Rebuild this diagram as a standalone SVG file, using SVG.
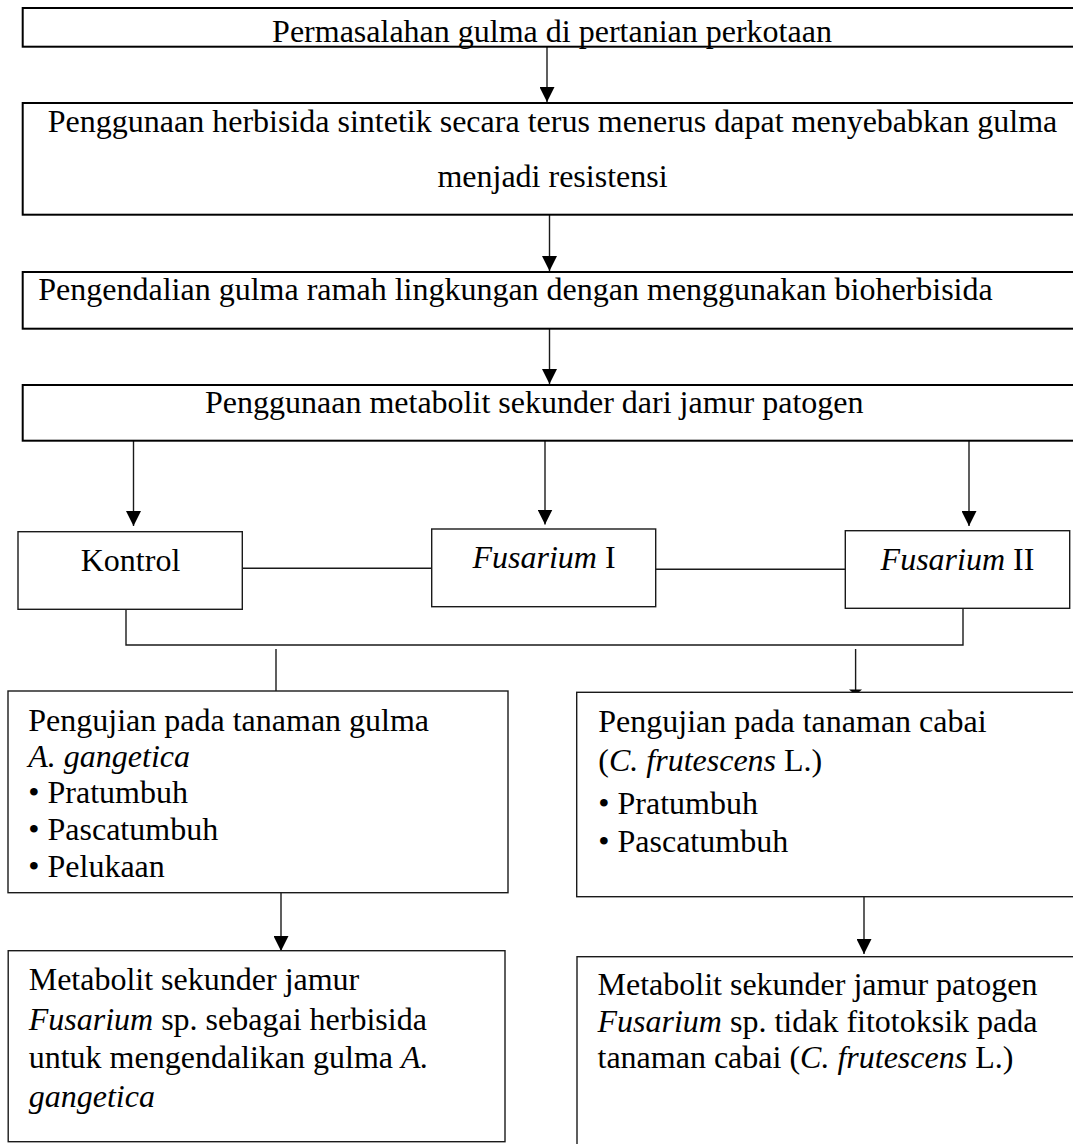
<svg xmlns="http://www.w3.org/2000/svg" width="1073" height="1144" viewBox="0 0 1073 1144">
<style>
text{font-family:"Liberation Serif","Times New Roman",serif;font-size:32px;fill:#000}
.i{font-style:italic}
.bx{fill:#fff;stroke:#000;stroke-width:2}
.sb{fill:#fff;stroke:#1a1a1a;stroke-width:1.4}
.ln{fill:none;stroke:#1a1a1a;stroke-width:1.4}
</style>
<defs>
<marker id="ah" markerWidth="15" markerHeight="15" refX="15" refY="7.5" orient="auto" markerUnits="userSpaceOnUse">
<path d="M0,0 L15,7.5 L0,15 Z" fill="#000"/>
</marker>
</defs>
<rect width="1073" height="1144" fill="#fff"/>
<g id="connectors">
<line class="ln" x1="547" y1="47" x2="547" y2="102" marker-end="url(#ah)"/>
<line class="ln" x1="549.5" y1="215" x2="549.5" y2="271" marker-end="url(#ah)"/>
<line class="ln" x1="549.5" y1="329" x2="549.5" y2="384" marker-end="url(#ah)"/>
<line class="ln" x1="133.5" y1="441" x2="133.5" y2="526" marker-end="url(#ah)"/>
<line class="ln" x1="545" y1="441" x2="545" y2="524.5" marker-end="url(#ah)"/>
<line class="ln" x1="969" y1="441" x2="969" y2="526" marker-end="url(#ah)"/>
<line class="ln" x1="242" y1="568.3" x2="432" y2="568.3"/>
<line class="ln" x1="656" y1="569.3" x2="845" y2="569.3"/>
<polyline class="ln" points="126,609.5 126,645 963,645 963,608.5"/>
<line class="ln" x1="276" y1="649" x2="276" y2="691"/>
<line class="ln" x1="855.6" y1="649" x2="855.6" y2="692"/>
<polygon points="849,689.5 862,689.5 855.6,695" fill="#000"/>
<line class="ln" x1="281" y1="893" x2="281" y2="951" marker-end="url(#ah)"/>
<line class="ln" x1="864" y1="897" x2="864" y2="954" marker-end="url(#ah)"/>
</g>
<g id="n1">
<rect class="bx" x="22.7" y="8" width="1070" height="38.7"/>
<text x="552" y="42" text-anchor="middle">Permasalahan gulma di pertanian perkotaan</text>
</g>
<g id="n2">
<rect class="bx" x="22.7" y="103" width="1070" height="111.7"/>
<text x="552.5" y="132" text-anchor="middle">Penggunaan herbisida sintetik secara terus menerus dapat menyebabkan gulma</text>
<text x="552.5" y="187" text-anchor="middle">menjadi resistensi</text>
</g>
<g id="n3">
<rect class="bx" x="22.7" y="272" width="1070" height="56.7"/>
<text x="38.3" y="300">Pengendalian gulma ramah lingkungan dengan menggunakan bioherbisida</text>
</g>
<g id="n4">
<rect class="bx" x="22.7" y="385" width="1070" height="55.7"/>
<text x="205" y="413">Penggunaan metabolit sekunder dari jamur patogen</text>
</g>
<g id="n5">
<rect class="sb" x="18" y="531.7" width="224.3" height="77.6"/>
<text x="130.5" y="570.7" text-anchor="middle">Kontrol</text>
</g>
<g id="n6">
<rect class="sb" x="431.7" y="529" width="224" height="77.7"/>
<text x="544" y="568" text-anchor="middle"><tspan class="i">Fusarium</tspan> I</text>
</g>
<g id="n7">
<rect class="sb" x="845.3" y="530.7" width="224.4" height="77.6"/>
<text x="957.5" y="570" text-anchor="middle"><tspan class="i">Fusarium</tspan> II</text>
</g>
<g id="n8">
<rect class="sb" x="8" y="691" width="500" height="201.7"/>
<text x="28.3" y="730.5">Pengujian pada tanaman gulma</text>
<text x="28.3" y="766.5" class="i">A. gangetica</text>
<text x="28.3" y="803.3">• Pratumbuh</text>
<text x="28.3" y="840">• Pascatumbuh</text>
<text x="28.3" y="876.7">• Pelukaan</text>
</g>
<g id="n9">
<rect class="sb" x="576.7" y="692.3" width="510" height="204.4"/>
<text x="598.3" y="732">Pengujian pada tanaman cabai</text>
<text x="598.3" y="771">(<tspan class="i">C. frutescens</tspan> L.)</text>
<text x="598.3" y="814">• Pratumbuh</text>
<text x="598.3" y="852">• Pascatumbuh</text>
</g>
<g id="n10">
<rect class="sb" x="8.2" y="950.7" width="496.8" height="191"/>
<text x="28.7" y="990">Metabolit sekunder jamur</text>
<text x="28.7" y="1029.5"><tspan class="i">Fusarium</tspan> sp. sebagai herbisida</text>
<text x="28.7" y="1068.3">untuk mengendalikan gulma <tspan class="i">A.</tspan></text>
<text x="28.7" y="1106.7" class="i">gangetica</text>
</g>
<g id="n11">
<rect class="sb" x="577" y="956.7" width="510" height="200"/>
<text x="597.5" y="995">Metabolit sekunder jamur patogen</text>
<text x="597.5" y="1031.7"><tspan class="i">Fusarium</tspan> sp. tidak fitotoksik pada</text>
<text x="597.5" y="1068.3">tanaman cabai (<tspan class="i">C. frutescens</tspan> L.)</text>
</g>
</svg>
